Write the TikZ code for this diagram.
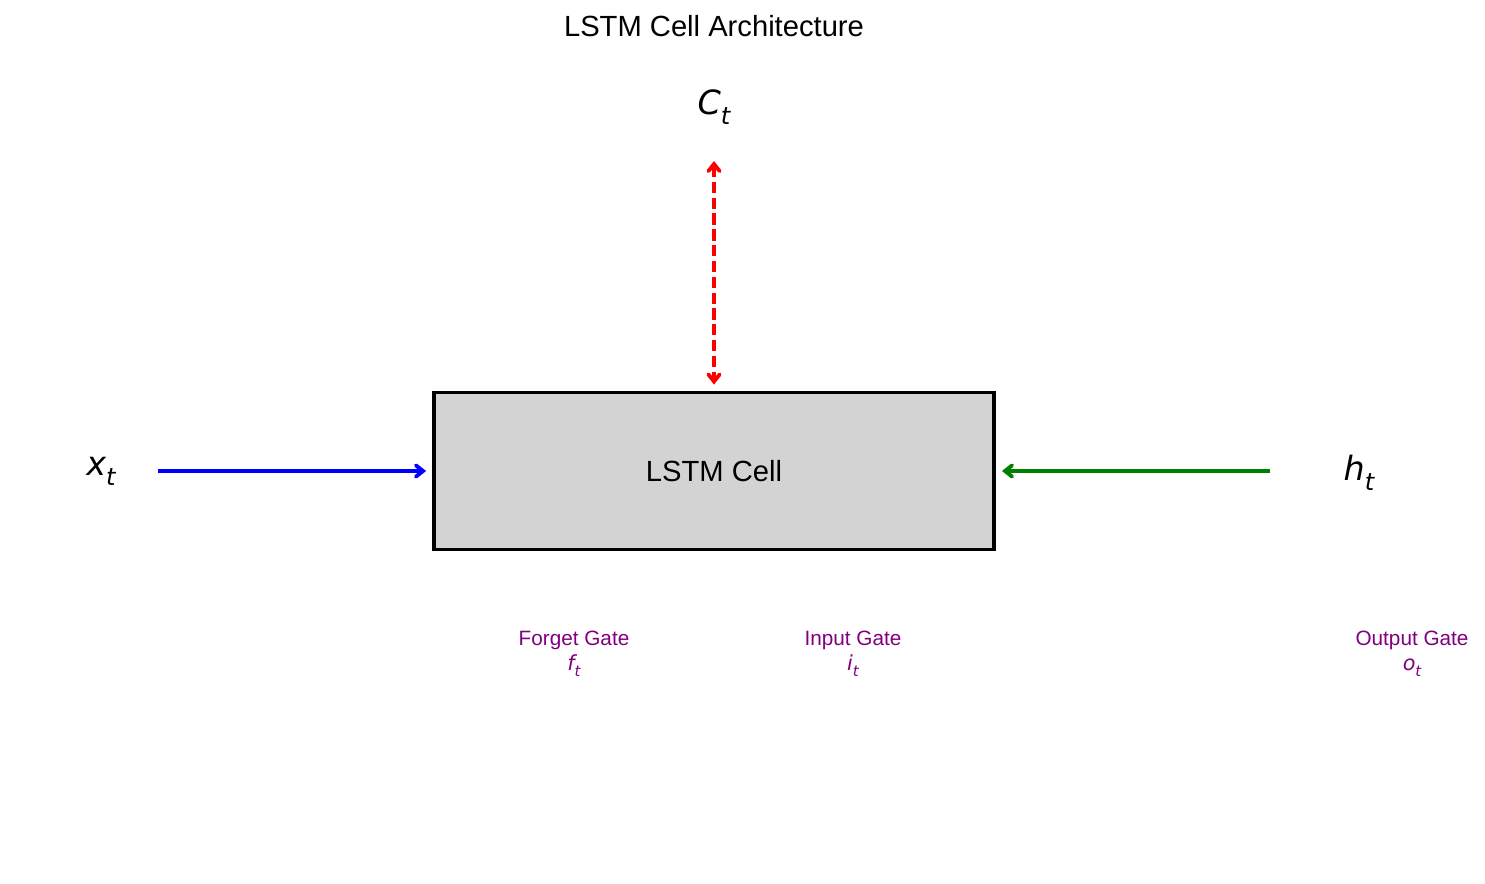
\documentclass[tikz,border=0pt]{standalone}
\usepackage{fontspec}
\setmainfont{Liberation Sans}
\newfontfamily\djv{DejaVu Sans}
\usetikzlibrary{arrows.meta}

\definecolor{cellgray}{RGB}{211,211,211}
\definecolor{mplgreen}{RGB}{0,128,0}
\definecolor{mplpurple}{RGB}{128,0,128}

% italic symbol with a subscript, in the style of mathtext
\newcommand{\subvar}[2]{{\djv\itshape #1\lower0.3em\hbox{\scalebox{0.72}{#2}}}}

\tikzset{
  barb/.tip={Straight Barb[length=2pt,width=3.2pt,line cap=round]},
  flow/.style={line width=1.1pt, -barb},
  gatelabel/.style={text=mplpurple, align=center, font=\fontsize{5.9}{7.1}\selectfont},
  symlabel/.style={font=\fontsize{9.5}{11}\selectfont}
}

\begin{document}
\begin{tikzpicture}
  \useasboundingbox (0,0) rectangle (14.85,8.83);
  % title and the cell in the middle
  \node[font=\fontsize{8.3}{10}\selectfont] (title) at (7.14,8.57) {LSTM Cell Architecture};
  \node[draw, line width=1.1pt, fill=cellgray, minimum width=5.6cm, minimum height=1.57cm,
        font=\fontsize{8.3}{10}\selectfont] (cell) at (7.14,4.12) {LSTM Cell};
  % symbols around the cell
  \node[symlabel] (ct) at (7.14,7.76) {\subvar{C}{t}};
  \node[symlabel] (xt) at (1.01,4.12) {\subvar{x}{t}};
  \node[symlabel] (ht) at (13.59,4.10) {\subvar{h}{t}};
  \coordinate (ctend) at (7.14,7.22);
  \coordinate (xstart) at (1.58,4.12);
  \coordinate (hstart) at (12.70,4.12);
  % connectors
  \draw[flow, blue] (xstart) -- ([xshift=-0.6mm]cell.west);
  \draw[flow, mplgreen] (hstart) -- ([xshift=0.6mm]cell.east);
  \draw[flow, red, barb-barb, dash pattern=on 3.2pt off 1.3pt]
    (ctend) -- ([yshift=0.6mm]cell.north);
  % gate labels below
  \node[gatelabel] (forget) at (5.74,2.29) {Forget Gate\\\subvar{f}{t}};
  \node[gatelabel] (input) at (8.53,2.29) {Input Gate\\\subvar{i}{t}};
  \node[gatelabel] (output) at (14.12,2.29) {Output Gate\\\subvar{o}{t}};
\end{tikzpicture}
\end{document}
